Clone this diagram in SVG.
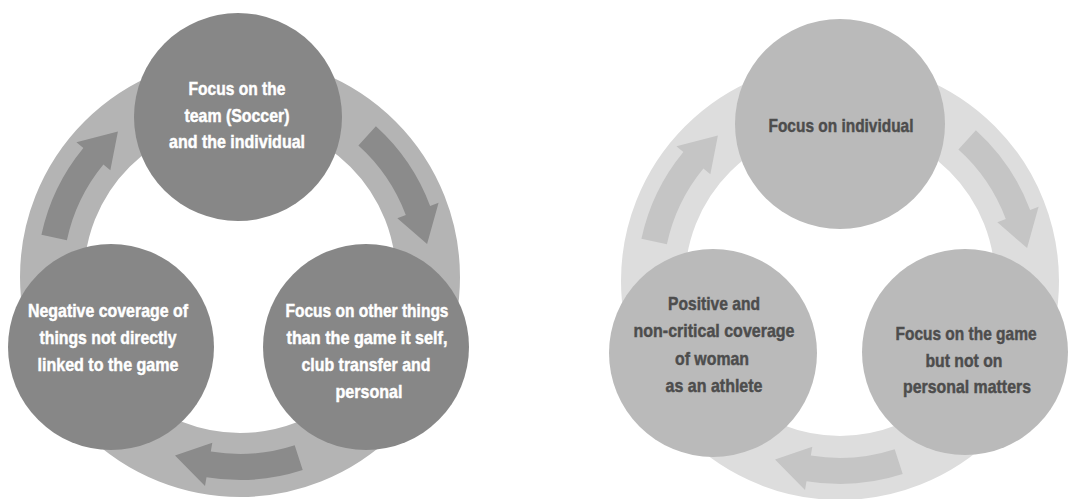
<svg xmlns="http://www.w3.org/2000/svg" xmlns:xlink="http://www.w3.org/1999/xlink" width="1079" height="499" viewBox="0 0 1079 499">
<style>
.t{font-family:"Liberation Sans",Arial,sans-serif;font-weight:bold;font-size:18.5px;text-anchor:middle;stroke-width:0.45px}
.tl{fill:#ffffff;stroke:#ffffff}
.tr{fill:#4d4d4d;stroke:#4d4d4d}
.ringL{fill:none;stroke:#b4b4b4;stroke-width:64}
.ringR{fill:none;stroke:#dddddd;stroke-width:64}
.nodeL{fill:#878787}
.nodeR{fill:#bababa}
.arrL{fill:#8b8b8b}
.arrR{fill:#c5c5c5}
</style>
<defs>
<path id="arw" d="M 54.7,168.3 A 177 177 0 0 1 -29.2,174.6 L -27.7,165.7 L -65.0,178.5 L -35.0,209.1 L -33.5,200.2 A 203 203 0 0 0 62.7,193.1 Z"/>
</defs>
<rect width="1079" height="499" fill="#ffffff"/>
<g id="connectors">
<circle class="ringL" cx="240" cy="277" r="188"/>
<use xlink:href="#arw" class="arrL" transform="translate(240,277)"/>
<use xlink:href="#arw" class="arrL" transform="translate(240,277) rotate(120)"/>
<use xlink:href="#arw" class="arrL" transform="translate(240,277) rotate(240)"/>
<circle class="ringR" cx="840" cy="281" r="187"/>
<use xlink:href="#arw" class="arrR" transform="translate(840,281)"/>
<use xlink:href="#arw" class="arrR" transform="translate(840,281) rotate(120)"/>
<use xlink:href="#arw" class="arrR" transform="translate(840,281) rotate(240)"/>
</g>
<g id="nodeL1">
<circle class="nodeL" cx="238" cy="117" r="104"/>
<text class="t tl" x="237" y="95" textLength="97" lengthAdjust="spacingAndGlyphs">Focus on the</text>
<text class="t tl" x="237" y="122" textLength="105" lengthAdjust="spacingAndGlyphs">team (Soccer)</text>
<text class="t tl" x="237" y="148" textLength="136" lengthAdjust="spacingAndGlyphs">and the individual</text>
</g>
<g id="nodeL2">
<circle class="nodeL" cx="366" cy="347" r="103"/>
<text class="t tl" x="367" y="317" textLength="163" lengthAdjust="spacingAndGlyphs">Focus on other things</text>
<text class="t tl" x="367" y="344" textLength="161" lengthAdjust="spacingAndGlyphs">than the game it self,</text>
<text class="t tl" x="366" y="371" textLength="129" lengthAdjust="spacingAndGlyphs">club transfer and</text>
<text class="t tl" x="369" y="398" textLength="67" lengthAdjust="spacingAndGlyphs">personal</text>
</g>
<g id="nodeL3">
<circle class="nodeL" cx="111" cy="347" r="103"/>
<text class="t tl" x="108" y="317" textLength="160" lengthAdjust="spacingAndGlyphs">Negative coverage of</text>
<text class="t tl" x="108" y="344" textLength="137" lengthAdjust="spacingAndGlyphs">things not directly</text>
<text class="t tl" x="108" y="371" textLength="141" lengthAdjust="spacingAndGlyphs">linked to the game</text>
</g>
<g id="nodeR1">
<circle class="nodeR" cx="840" cy="124" r="105"/>
<text class="t tr" x="841" y="132" textLength="145" lengthAdjust="spacingAndGlyphs">Focus on individual</text>
</g>
<g id="nodeR2">
<circle class="nodeR" cx="965" cy="352" r="103"/>
<text class="t tr" x="966" y="340" textLength="141" lengthAdjust="spacingAndGlyphs">Focus on the game</text>
<text class="t tr" x="964" y="367" textLength="77" lengthAdjust="spacingAndGlyphs">but not on</text>
<text class="t tr" x="967" y="393" textLength="128" lengthAdjust="spacingAndGlyphs">personal matters</text>
</g>
<g id="nodeR3">
<circle class="nodeR" cx="713" cy="353" r="104"/>
<text class="t tr" x="714" y="310" textLength="92" lengthAdjust="spacingAndGlyphs">Positive and</text>
<text class="t tr" x="714" y="337" textLength="161" lengthAdjust="spacingAndGlyphs">non-critical coverage</text>
<text class="t tr" x="712" y="365" textLength="74" lengthAdjust="spacingAndGlyphs">of woman</text>
<text class="t tr" x="714" y="392" textLength="97" lengthAdjust="spacingAndGlyphs">as an athlete</text>
</g>
</svg>
